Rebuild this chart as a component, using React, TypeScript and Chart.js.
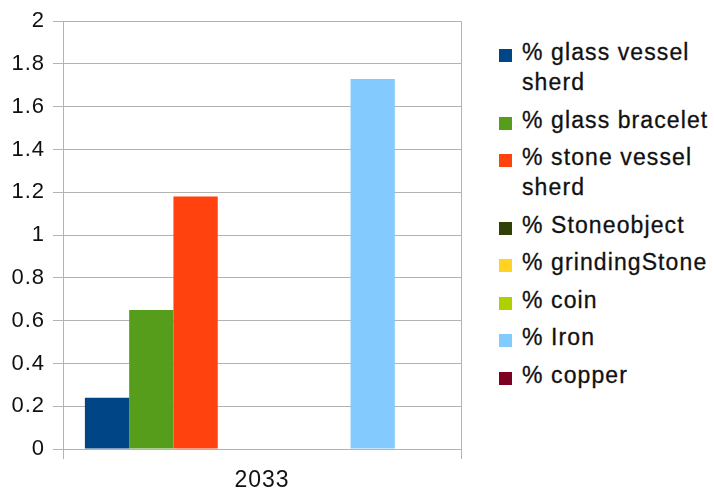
import React, { useEffect, useRef } from "react";
import { Chart, registerables } from "chart.js";

Chart.register(...registerables);

const categories = ["2033"];
const seriesNames = [
  "% glass vessel sherd",
  "% glass bracelet",
  "% stone vessel sherd",
  "% Stoneobject",
  "% grindingStone",
  "% coin",
  "% Iron",
  "% copper",
];
const seriesValues = [0.24, 0.65, 1.18, 0, 0, 0, 1.73, 0];
const seriesColors = [
  "#004586",
  "#579d1c",
  "#ff420e",
  "#314004",
  "#ffd320",
  "#aecf00",
  "#83caff",
  "#7e0021",
];
const yMin = 0;
const yMax = 2;
const yStep = 0.2;

const FONT = "'Liberation Sans', Arial, sans-serif";

const spacingPlugin = {
  id: "letterSpacing",
  beforeDraw(chart: any) {
    try {
      chart.ctx.letterSpacing = "1px";
    } catch (e) {}
  },
};

export default function App() {
  const ref = useRef<HTMLCanvasElement | null>(null);

  useEffect(() => {
    if (!ref.current) return;
    const chart = new Chart(ref.current, {
      type: "bar",
      data: {
        labels: categories,
        datasets: seriesNames.map((name, i) => ({
          label: name,
          data: [seriesValues[i]],
          backgroundColor: seriesColors[i],
          borderWidth: 0,
          barPercentage: 1,
          categoryPercentage: 0.89,
        })),
      },
      plugins: [spacingPlugin],
      options: {
        responsive: false,
        animation: false,
        layout: { padding: { top: 21, right: 19, left: 0, bottom: 0 } },
        plugins: {
          legend: { display: false },
          tooltip: { enabled: false },
        },
        scales: {
          x: {
            grid: {
              color: "#b3b3b3",
              lineWidth: 1,
              tickLength: 10,
              offset: true,
            },
            border: { color: "#b3b3b3" },
            ticks: {
              color: "#111",
              font: { family: FONT, size: 23 },
              padding: 8,
            },
            afterFit: (s: any) => {
              s.height = 46;
            },
          },
          y: {
            min: yMin,
            max: yMax,
            grid: { color: "#b3b3b3", lineWidth: 1, tickLength: 10 },
            border: { color: "#b3b3b3" },
            ticks: {
              stepSize: yStep,
              color: "#111",
              font: { family: FONT, size: 22 },
              padding: 8,
              callback: (v: any) => String(Number(Number(v).toFixed(1))),
            },
            afterFit: (s: any) => {
              s.width = 63;
            },
          },
        },
      },
    });
    return () => chart.destroy();
  }, []);

  return (
    <div
      style={{
        position: "absolute",
        left: 0,
        top: 0,
        width: 714,
        height: 495,
        background: "#fff",
        overflow: "hidden",
      }}
    >
      <canvas
        ref={ref}
        width={480}
        height={495}
        style={{ position: "absolute", left: 0, top: 0 }}
      />
      <div
        style={{
          position: "absolute",
          left: 499,
          top: 37,
          width: 215,
          fontFamily: FONT,
          fontSize: 23,
          color: "#111",
          letterSpacing: "1.1px",
          WebkitTextStroke: "0.3px #111",
        }}
      >
        {seriesNames.map((name, i) => (
          <div
            key={name}
            style={{ display: "flex", alignItems: "flex-start", marginBottom: 7.5 }}
          >
            <div
              style={{
                width: 13,
                height: 13,
                background: seriesColors[i],
                marginTop: 12,
                flex: "0 0 13px",
              }}
            />
            <div style={{ marginLeft: 10, lineHeight: "30px", width: 192 }}>{name}</div>
          </div>
        ))}
      </div>
    </div>
  );
}
